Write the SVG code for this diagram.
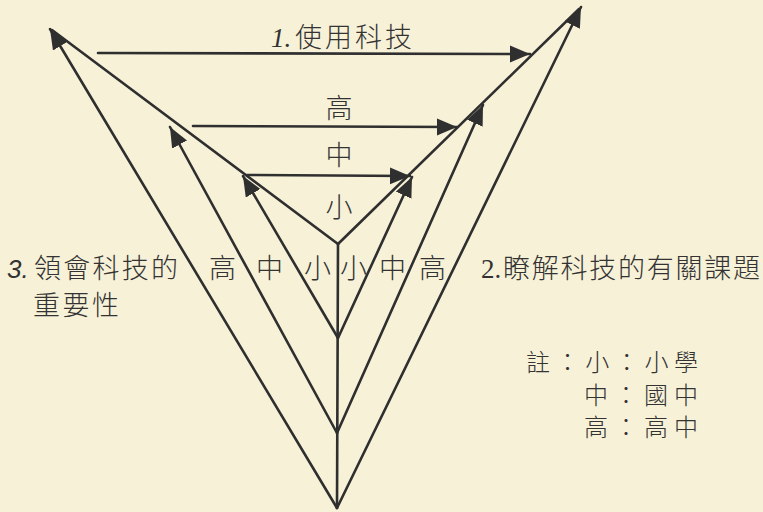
<svg xmlns="http://www.w3.org/2000/svg" width="763" height="512" viewBox="0 0 763 512">
  <defs>
    <marker id="ah" markerUnits="userSpaceOnUse" markerWidth="22" markerHeight="18" refX="20" refY="8.5" orient="auto">
      <path d="M0,0 L20,8.5 L0,17 z" fill="#2f2f2f"/>
    </marker>
    <style>
      .ln { stroke: #2f2f2f; stroke-width: 2.6; fill: none; stroke-linecap: round; }
      .arr { marker-end: url(#ah); }
      .cjk { font-family: "Noto Sans CJK TC", "Noto Sans CJK SC", sans-serif; font-size: 27px; fill: #333; font-weight: 300; }
      .note { font-size: 24px; }
      .num { font-family: "Liberation Serif", serif; font-size: 27px; fill: #333; }
      .it { font-style: italic; }
      .sansit { font-family: "Liberation Sans", sans-serif; font-style: italic; font-size: 26px; fill: #333; }
    </style>
  </defs>
  <rect width="763" height="512" fill="#f7f1d8"/>

  <g id="connectors">
    <line class="ln arr" x1="337" y1="508" x2="50" y2="29"/>
    <line class="ln arr" x1="337" y1="508" x2="581" y2="7"/>
    <line class="ln arr" x1="337" y1="433" x2="170" y2="127"/>
    <line class="ln arr" x1="337" y1="433" x2="483" y2="105"/>
    <line class="ln arr" x1="338" y1="338" x2="243" y2="176"/>
    <line class="ln arr" x1="338" y1="338" x2="412" y2="177"/>
    <line class="ln" x1="338" y1="244" x2="52" y2="30"/>
    <line class="ln" x1="338" y1="244" x2="579" y2="9"/>
    <line class="ln" x1="337" y1="508" x2="338" y2="244"/>
    <line class="ln arr" x1="98" y1="53" x2="530" y2="54"/>
    <line class="ln arr" x1="193" y1="126" x2="457" y2="127"/>
    <line class="ln arr" x1="247" y1="175" x2="410" y2="176"/>
  </g>

  <g id="label-use">
    <text class="num it" x="271" y="47">1.</text>
    <text class="cjk" x="295" y="47" textLength="117" lengthAdjust="spacing">使用科技</text>
  </g>

  <g id="levels-vertical">
    <text class="cjk" x="339" y="118" text-anchor="middle">高</text>
    <text class="cjk" x="339" y="165" text-anchor="middle">中</text>
    <text class="cjk" x="339" y="217" text-anchor="middle">小</text>
  </g>

  <g id="label-importance">
    <text class="sansit" x="7" y="278">3.</text>
    <text class="cjk" x="34" y="278" textLength="144" lengthAdjust="spacing">領會科技的</text>
    <text class="cjk" x="33" y="315" textLength="86" lengthAdjust="spacing">重要性</text>
  </g>

  <g id="levels-row">
    <text class="cjk" x="209" y="278">高</text>
    <text class="cjk" x="256" y="278">中</text>
    <text class="cjk" x="304" y="278">小</text>
    <text class="cjk" x="340" y="278">小</text>
    <text class="cjk" x="379" y="278">中</text>
    <text class="cjk" x="419" y="278">高</text>
  </g>

  <g id="label-issues">
    <text class="num" x="481" y="278" font-size="25">2.</text>
    <text class="cjk" x="503" y="278" textLength="257" lengthAdjust="spacing">瞭解科技的有關課題</text>
  </g>

  <g id="note">
    <text class="cjk note" x="526" y="371" textLength="172" lengthAdjust="spacing">註：小：小學</text>
    <text class="cjk note" x="584" y="404" textLength="114" lengthAdjust="spacing">中：國中</text>
    <text class="cjk note" x="584" y="436" textLength="114" lengthAdjust="spacing">高：高中</text>
  </g>
</svg>
